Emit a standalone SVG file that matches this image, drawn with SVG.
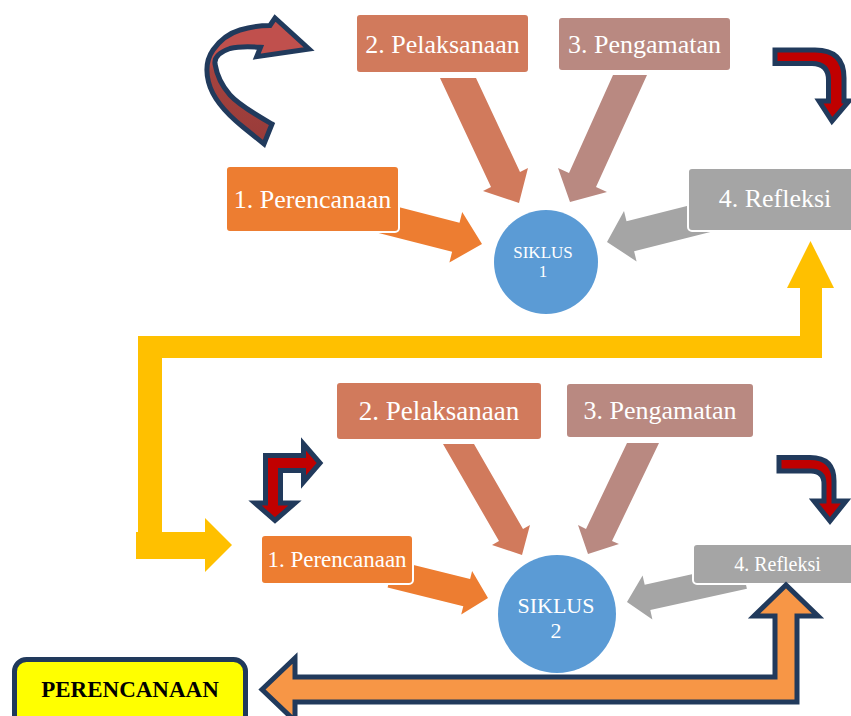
<svg xmlns="http://www.w3.org/2000/svg" width="851" height="716" viewBox="0 0 851 716">
  <style>
    .box { stroke: #ffffff; stroke-width: 2; }
    .lbl { fill: #ffffff; text-anchor: middle; }
    .navy { stroke: #213A5C; stroke-width: 5; stroke-linejoin: miter; }
    .bent { fill: #C00000; }
  </style>
  <defs>
    <linearGradient id="curveGrad" gradientUnits="userSpaceOnUse" x1="0" y1="17" x2="0" y2="145">
      <stop offset="0" stop-color="#C0504D"/>
      <stop offset="0.33" stop-color="#C0504D"/>
      <stop offset="0.42" stop-color="#A6433F"/>
      <stop offset="1" stop-color="#983B39"/>
    </linearGradient>
  </defs>

  <g id="connectors">
    <polygon fill="#FFC000" points="138,532 138,336 800,336 800,288 787,288 810.5,241 834,288 822,288 822,358 162,358 162,532"/>
    <polygon fill="#FFC000" points="136,532 205,532 205,518 232,545 205,572 205,559 136,559"/>

    <polygon fill="#ED7D31" points="379,202 459.5,222.8 462.2,212.1 482,244 449.4,262.5 452.1,251.8 371.7,231.3"/>
    <polygon fill="#D17A5C" points="440,78 476,78 520,172 528,168 519,203 483,191 491,187"/>
    <polygon fill="#B98981" points="613,75 647,75 596,187 607,192 570,202 558,168 569,173"/>
    <polygon fill="#A5A5A5" points="719.6,197.8 626.5,221.2 624,211 607,242 636.6,261.4 634.1,251.2 727.2,227.8"/>

    <polygon fill="#ED7D31" points="394.4,560.2 470.1,579.1 472.1,570.9 488,598 461.2,614.5 463.3,606.3 387.6,587.4"/>
    <polygon fill="#D17A5C" points="443,444 474,444 523,529 530,525 522,555 492,545 499,541"/>
    <polygon fill="#B98981" points="627,443 659,443 612,541 619,544 588,554 578,525 586,529"/>
    <polygon fill="#A5A5A5" points="741.3,563.3 644.7,584.7 642.6,575.4 627,602 652.4,619.4 650.3,610.1 746.9,588.7"/>

    <path class="navy" fill="url(#curveGrad)" d="M272,124 C258,116 240,106 230,95 C222,86 217,76 215,64 C214,57 220,52 230,48.5 C238,46.5 250,46.5 260.5,47.3 L256.7,56.7 L309,49 L275,18 L270,25.5 C262,25.5 250,27 240,30 C230,33 220,40 213,50 C206,60 206,72 208.5,82 C213,100 228,115 243,127 L264,144 Z"/>
    <path class="navy bent" d="M775,50 H815 Q844,50 844,78 V101 H849 L832,121 L819,101 H828.5 V80 Q828.5,63.5 812,63.5 H775 Z"/>
    <path class="navy bent" d="M265.5,455.5 H303.5 V444 L320,463 L303.5,482 V470.5 H280.5 V503 H295 L275,520.5 L255,503 H265.5 Z"/>
    <path class="navy bent" d="M779,457.5 H810 Q834,457.5 834,481 V501 H846 L830,521 L814,501 H824 V484 Q824,471 811,471 H779 Z"/>
  </g>

  <g font-family="'Liberation Serif', 'Times New Roman', serif">
  <g id="siklus1">
    <circle cx="546" cy="262" r="52" fill="#5B9BD5"/>
    <text class="lbl" x="543" y="258" font-size="17">SIKLUS</text>
    <text class="lbl" x="543" y="277" font-size="17">1</text>
  </g>
  <g id="perencanaan1">
    <rect class="box" x="226" y="166" width="173" height="66" rx="4" fill="#ED7D31"/>
    <text class="lbl" x="312.5" y="208" font-size="26">1. Perencanaan</text>
  </g>
  <g id="pelaksanaan1">
    <rect class="box" x="356" y="14" width="173" height="59" rx="4" fill="#D17A5C"/>
    <text class="lbl" x="442.5" y="53" font-size="26">2. Pelaksanaan</text>
  </g>
  <g id="pengamatan1">
    <rect class="box" x="558" y="17" width="173" height="54" rx="4" fill="#B98981"/>
    <text class="lbl" x="644.5" y="53" font-size="26">3. Pengamatan</text>
  </g>
  <g id="refleksi1">
    <rect class="box" x="688" y="168" width="175" height="63" rx="4" fill="#A5A5A5"/>
    <text class="lbl" x="775" y="207" font-size="26">4. Refleksi</text>
  </g>

  <g id="siklus2">
    <circle cx="557" cy="614" r="59" fill="#5B9BD5"/>
    <text class="lbl" x="556" y="613" font-size="22">SIKLUS</text>
    <text class="lbl" x="556" y="638" font-size="22">2</text>
  </g>
  <g id="perencanaan2">
    <rect class="box" x="261" y="535" width="152" height="49" rx="4" fill="#ED7D31"/>
    <text class="lbl" x="337" y="567" font-size="23">1. Perencanaan</text>
  </g>
  <g id="pelaksanaan2">
    <rect class="box" x="336" y="382" width="206" height="58" rx="4" fill="#D17A5C"/>
    <text class="lbl" x="439" y="420" font-size="27">2. Pelaksanaan</text>
  </g>
  <g id="pengamatan2">
    <rect class="box" x="566" y="383" width="188" height="55" rx="4" fill="#B98981"/>
    <text class="lbl" x="660" y="419" font-size="26">3. Pengamatan</text>
  </g>
  <g id="refleksi2">
    <rect class="box" x="693" y="544" width="170" height="40" rx="4" fill="#A5A5A5"/>
    <text class="lbl" x="777.5" y="571" font-size="20">4. Refleksi</text>
  </g>

  <g id="return-arrow">
    <path class="navy" fill="#F79646" d="M262,689.5 L295,658 V677 H775 V616 H754 L786,585 L818,616 H797 V702 H295 V721 Z"/>
  </g>

  <g id="perencanaan-final">
    <rect x="14.5" y="659.5" width="231" height="72" rx="12" fill="#FFFF00" stroke="#213A5C" stroke-width="5"/>
    <text x="130" y="697" font-size="23" font-weight="bold" fill="#000000" text-anchor="middle">PERENCANAAN</text>
  </g>
  </g>
</svg>
